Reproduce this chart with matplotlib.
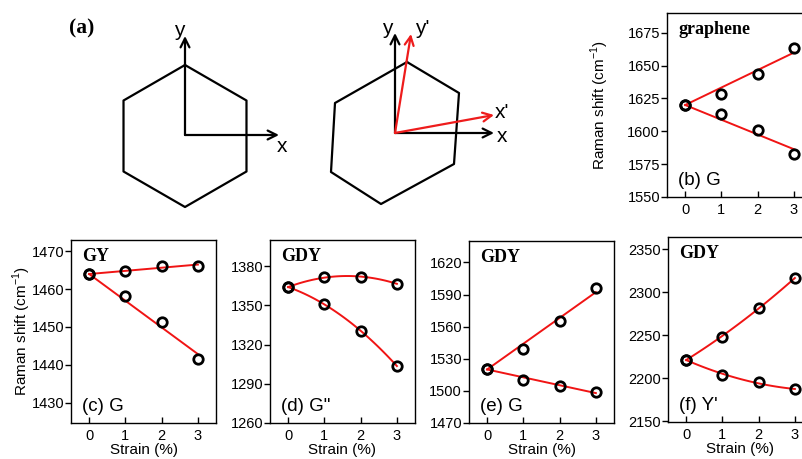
import numpy as np
import matplotlib.pyplot as plt

plt.rcParams['font.family'] = ['Liberation Sans', 'DejaVu Sans']
plt.rcParams['mathtext.fontset'] = 'custom'
plt.rcParams['mathtext.rm'] = 'Liberation Sans'

# strain levels (%)
strain = [0, 1, 2, 3]

# Raman peak positions (cm^-1), two branches per panel
g_up = [1620, 1628.5, 1643.5, 1663.5]
g_dn = [1620, 1613.5, 1601, 1582.5]
gy_up = [1464, 1464.7, 1466.2, 1466.2]
gy_dn = [1464, 1458.3, 1451.2, 1441.5]
gdy_g2_up = [1364, 1371.6, 1371.6, 1366.6]
gdy_g2_dn = [1364, 1350.8, 1330.5, 1303.6]
gdy_g_up = [1520, 1539, 1565, 1596]
gdy_g_dn = [1520, 1510, 1505, 1499]
gdy_y_up = [2221, 2248, 2282, 2316]
gdy_y_dn = [2221, 2204, 2195, 2187]

W, H = 802, 459
fig = plt.figure(figsize=(W / 100, H / 100), dpi=100)


def box(l, t, r, b):
    return [l / W, 1 - b / H, (r - l) / W, (b - t) / H]


def fit_through_first(x, y, deg):
    # least squares polynomial pinned at the unstrained value
    x = np.asarray(x, float)
    y = np.asarray(y, float)
    A = np.column_stack([x ** k for k in range(1, deg + 1)])
    coef = np.linalg.lstsq(A, y - y[0], rcond=None)[0]
    xs = np.linspace(x[0], x[-1], 100)
    ys = y[0] + sum(c * xs ** (k + 1) for k, c in enumerate(coef))
    return xs, ys


# ---- (a) schematic of the hexagonal cell before / after strain ----
ax0 = fig.add_axes([0, 0, 1, 1])
ax0.set_xlim(0, W)
ax0.set_ylim(H, 0)
ax0.axis('off')

cx, cy, R = 185, 136, 71
ang = np.radians([90, 30, -30, -90, -150, 150, 90])
hex1 = np.column_stack([cx + R * np.cos(ang), cy - R * np.sin(ang)])
ax0.plot(hex1[:, 0], hex1[:, 1], color='k', lw=1.6)

hex2 = np.array([(407, 62), (459, 93), (454, 164), (381, 204),
                 (331, 172), (335, 103), (407, 62)])
ax0.plot(hex2[:, 0], hex2[:, 1], color='k', lw=1.6)


def arrow(p0, p1, color='k'):
    ax0.annotate('', xy=p1, xytext=p0,
                 arrowprops=dict(arrowstyle='->', lw=1.6, color=color,
                                 shrinkA=0, shrinkB=0, mutation_scale=16))


arrow((185, 135), (279, 135))
arrow((185, 135), (185, 36))
arrow((395, 133), (494, 133))
arrow((395, 133), (395, 33))
arrow((395, 133), (494, 115), '#ee1c1c')
arrow((395, 133), (411, 34), '#ee1c1c')

lab = dict(fontsize=15, ha='center', va='center')
ax0.text(179, 31, 'y', **lab)
ax0.text(282, 146, 'x', **lab)
ax0.text(387, 29, 'y', **lab)
ax0.text(422, 28, "y'", **lab)
ax0.text(502, 113, "x'", **lab)
ax0.text(502, 136, 'x', **lab)
ax0.text(82, 28, '(a)', fontsize=15.5, fontweight='bold',
         family='Liberation Serif', ha='center', va='center')

# ---- Raman shift panels ----
panels = [
    dict(rect=(667, 13, 812, 197), data=(g_up, g_dn), deg=(1, 1),
         ylim=(1550, 1690), yticks=range(1550, 1676, 25),
         name='graphene', mode='(b) G', ylabel=True, lpad=12, xlabel=False),
    dict(rect=(71, 240, 216, 423), data=(gy_up, gy_dn), deg=(1, 1),
         ylim=(1424.6, 1473), yticks=range(1430, 1471, 10),
         name='GY', mode='(c) G', ylabel=True, lpad=-1, xlabel=True),
    dict(rect=(270, 240, 415, 423), data=(gdy_g2_up, gdy_g2_dn), deg=(2, 2),
         ylim=(1260, 1400), yticks=range(1260, 1381, 30),
         name='GDY', mode='(d) G"', ylabel=False, xlabel=True),
    dict(rect=(469, 241, 614, 423), data=(gdy_g_up, gdy_g_dn), deg=(1, 1),
         ylim=(1470, 1640), yticks=range(1470, 1621, 30),
         name='GDY', mode='(e) G', ylabel=False, xlabel=True),
    dict(rect=(668, 237, 813, 422), data=(gdy_y_up, gdy_y_dn), deg=(2, 2),
         ylim=(2149, 2364), yticks=range(2150, 2351, 50),
         name='GDY', mode="(f) Y'", ylabel=False, xlabel=True),
]

for p in panels:
    ax = fig.add_axes(box(*p['rect']))
    for series, deg in zip(p['data'], p['deg']):
        xs, ys = fit_through_first(strain, series, deg)
        ax.plot(xs, ys, color='#f01414', lw=1.4, zorder=2)
        ax.plot(strain, series, 'o', ms=6.8, mfc='none', mec='k',
                mew=2.0, zorder=3)
    ax.set_xlim(-0.5, 3.5)
    ax.set_ylim(*p['ylim'])
    ax.set_xticks(strain)
    ax.set_yticks(list(p['yticks']))
    ax.tick_params(axis='x', direction='in', length=4, width=1,
                   labelsize=10.5, pad=4)
    ax.tick_params(axis='y', direction='out', length=4, width=1,
                   labelsize=10.5, pad=1)
    ax.tick_params(top=False, right=False)
    for s in ax.spines.values():
        s.set_linewidth(1.0)
    ax.text(0.08, 0.91, p['name'], transform=ax.transAxes, fontsize=13,
            fontweight='bold', family='Liberation Serif', va='center')
    ax.text(0.075, 0.09, p['mode'], transform=ax.transAxes, fontsize=13.5,
            va='center')
    if p['ylabel']:
        ax.set_ylabel('Raman shift (cm$^{-1}$)', fontsize=11,
                      labelpad=p['lpad'])
    if p['xlabel']:
        ax.set_xlabel('Strain (%)', fontsize=11, labelpad=0.5)

fig.savefig('out.png', dpi=100)
